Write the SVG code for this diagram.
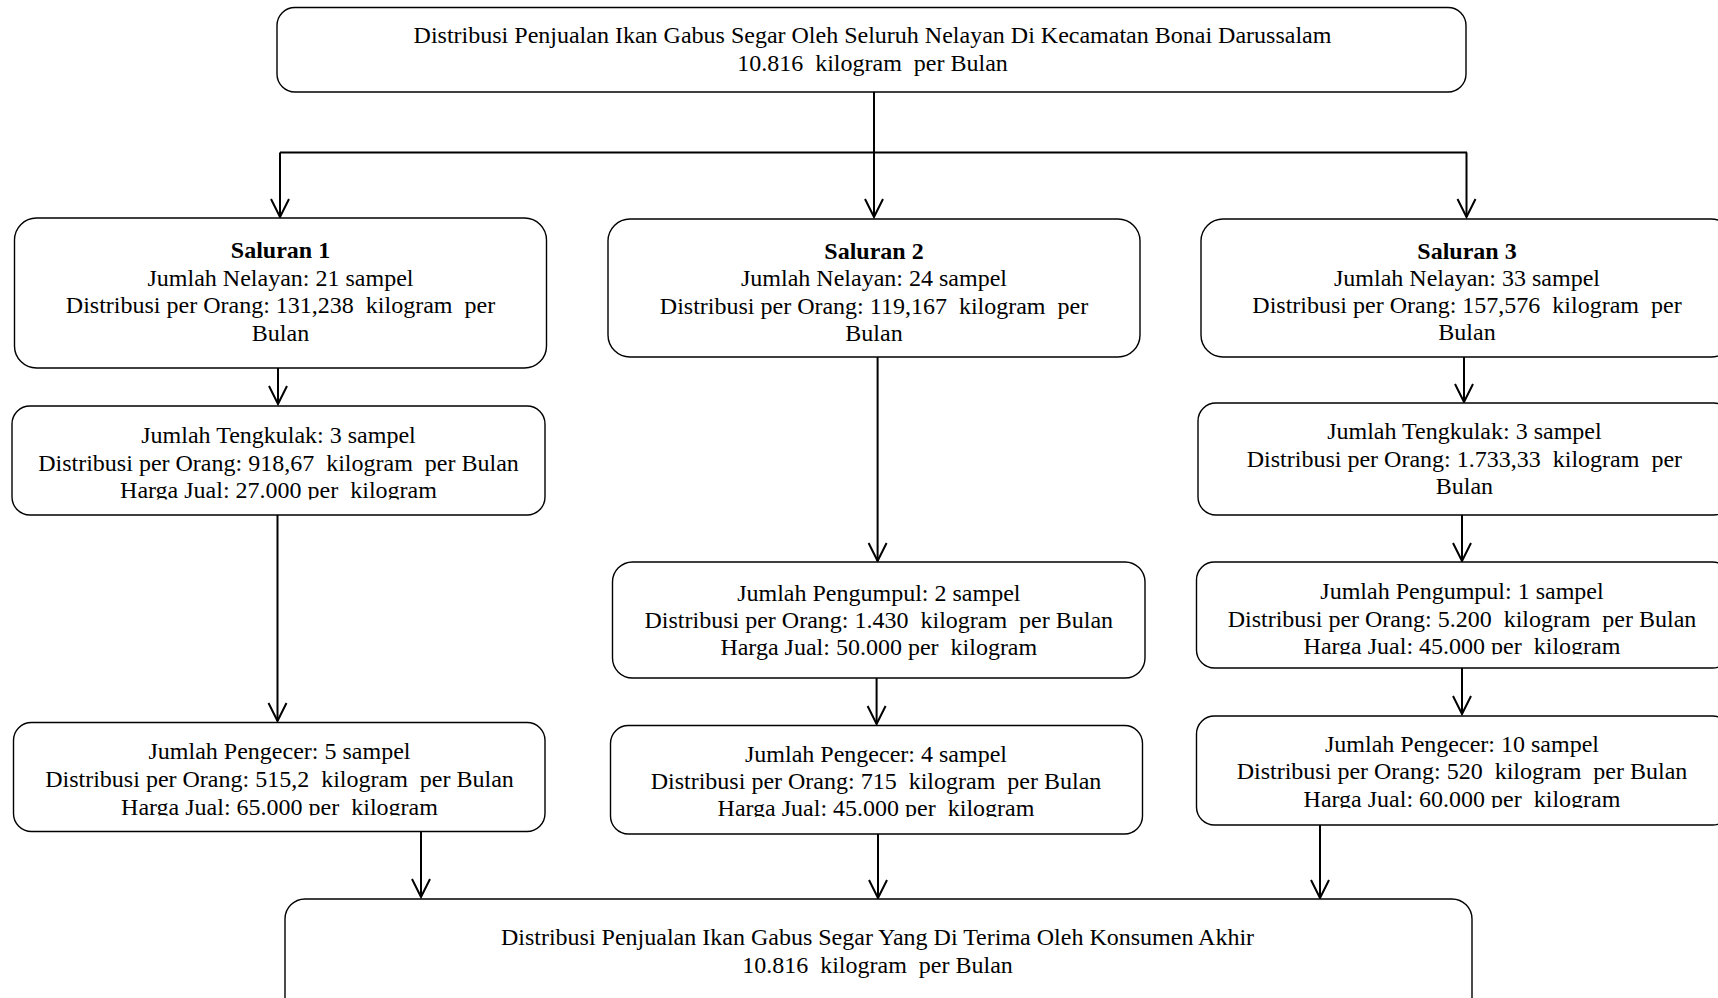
<svg xmlns="http://www.w3.org/2000/svg" width="1718" height="998" viewBox="0 0 1718 998" xml:space="preserve">
<style>
.box{fill:#fff;stroke:#000;stroke-width:1.4}
.t{font-family:"Liberation Serif","Times New Roman",serif;font-size:24px;fill:#000;text-anchor:middle;white-space:pre}
.b{font-weight:bold}
.c{fill:none;stroke:#000;stroke-width:2}
</style>
<defs>
<marker id="arr" markerUnits="userSpaceOnUse" viewBox="-20 -20 40 40" markerWidth="40" markerHeight="40" refX="0" refY="0" orient="auto" overflow="visible">
<path d="M-18,-9 L0,0 L-18,9" fill="none" stroke="#000" stroke-width="2"/>
</marker>
<clipPath id="cT1"><rect x="0" y="380" width="600" height="119.5"/></clipPath>
<clipPath id="cPe1"><rect x="0" y="700" width="600" height="115.5"/></clipPath>
<clipPath id="cPe2"><rect x="590" y="700" width="600" height="117"/></clipPath>
<clipPath id="cPu3"><rect x="1180" y="540" width="600" height="114.5"/></clipPath>
<clipPath id="cPe3"><rect x="1180" y="700" width="600" height="108"/></clipPath>
</defs>
<rect width="1718" height="998" fill="#fff"/>
<g id="connectors">
<path class="c" d="M874,92 V152.5 M280,152.5 H1467"/>
<line class="c" x1="280" y1="152.5" x2="280" y2="217" marker-end="url(#arr)"/>
<line class="c" x1="874" y1="152.5" x2="874" y2="217" marker-end="url(#arr)"/>
<line class="c" x1="1466.5" y1="152.5" x2="1466.5" y2="217" marker-end="url(#arr)"/>
<line class="c" x1="278" y1="368" x2="278" y2="404" marker-end="url(#arr)"/>
<line class="c" x1="277.5" y1="515" x2="277.5" y2="721" marker-end="url(#arr)"/>
<line class="c" x1="421" y1="832" x2="421" y2="897" marker-end="url(#arr)"/>
<line class="c" x1="877.6" y1="357" x2="877.6" y2="561" marker-end="url(#arr)"/>
<line class="c" x1="876.6" y1="678" x2="876.6" y2="724" marker-end="url(#arr)"/>
<line class="c" x1="878" y1="834" x2="878" y2="898" marker-end="url(#arr)"/>
<line class="c" x1="1464" y1="357" x2="1464" y2="402" marker-end="url(#arr)"/>
<line class="c" x1="1462" y1="515" x2="1462" y2="561" marker-end="url(#arr)"/>
<line class="c" x1="1462" y1="668" x2="1462" y2="714" marker-end="url(#arr)"/>
<line class="c" x1="1320" y1="825" x2="1320" y2="898" marker-end="url(#arr)"/>
</g>
<g id="top">
<rect class="box" x="277" y="7.5" width="1189" height="84.5" rx="18"/>
<text class="t" x="872.5" y="43">Distribusi Penjualan Ikan Gabus Segar Oleh Seluruh Nelayan Di Kecamatan Bonai Darussalam</text>
<text class="t" x="872.5" y="71">10.816  kilogram  per Bulan</text>
</g>
<g id="saluran1">
<rect class="box" x="14.5" y="218" width="532" height="150" rx="22"/>
<text class="t b" x="280.5" y="258">Saluran 1</text>
<text class="t" x="280.5" y="285.5">Jumlah Nelayan: 21 sampel</text>
<text class="t" x="280.5" y="313">Distribusi per Orang: 131,238  kilogram  per</text>
<text class="t" x="280.5" y="340.5">Bulan</text>
</g>
<g id="tengkulak1">
<rect class="box" x="12" y="406" width="533" height="109" rx="18"/>
<g clip-path="url(#cT1)">
<text class="t" x="278.5" y="443">Jumlah Tengkulak: 3 sampel</text>
<text class="t" x="278.5" y="470.5">Distribusi per Orang: 918,67  kilogram  per Bulan</text>
<text class="t" x="278.5" y="498">Harga Jual: 27.000 per  kilogram</text>
</g>
</g>
<g id="pengecer1">
<rect class="box" x="13.5" y="722.5" width="531.5" height="109" rx="18"/>
<g clip-path="url(#cPe1)">
<text class="t" x="279.5" y="759">Jumlah Pengecer: 5 sampel</text>
<text class="t" x="279.5" y="787">Distribusi per Orang: 515,2  kilogram  per Bulan</text>
<text class="t" x="279.5" y="814.5">Harga Jual: 65.000 per  kilogram</text>
</g>
</g>
<g id="saluran2">
<rect class="box" x="608" y="219" width="532" height="138" rx="22"/>
<text class="t b" x="874" y="259">Saluran 2</text>
<text class="t" x="874" y="286">Jumlah Nelayan: 24 sampel</text>
<text class="t" x="874" y="313.5">Distribusi per Orang: 119,167  kilogram  per</text>
<text class="t" x="874" y="341">Bulan</text>
</g>
<g id="pengumpul2">
<rect class="box" x="612.5" y="562" width="532.5" height="116" rx="20"/>
<text class="t" x="878.8" y="600.5">Jumlah Pengumpul: 2 sampel</text>
<text class="t" x="878.8" y="627.5">Distribusi per Orang: 1.430  kilogram  per Bulan</text>
<text class="t" x="878.8" y="655">Harga Jual: 50.000 per  kilogram</text>
</g>
<g id="pengecer2">
<rect class="box" x="610.5" y="725.5" width="532" height="108.5" rx="18"/>
<g clip-path="url(#cPe2)">
<text class="t" x="876" y="761.5">Jumlah Pengecer: 4 sampel</text>
<text class="t" x="876" y="789">Distribusi per Orang: 715  kilogram  per Bulan</text>
<text class="t" x="876" y="816">Harga Jual: 45.000 per  kilogram</text>
</g>
</g>
<g id="saluran3">
<rect class="box" x="1201" y="219" width="532" height="138" rx="22"/>
<text class="t b" x="1467" y="259">Saluran 3</text>
<text class="t" x="1467" y="286">Jumlah Nelayan: 33 sampel</text>
<text class="t" x="1467" y="313">Distribusi per Orang: 157,576  kilogram  per</text>
<text class="t" x="1467" y="340">Bulan</text>
</g>
<g id="tengkulak3">
<rect class="box" x="1198" y="403" width="534" height="112" rx="18"/>
<text class="t" x="1464.4" y="439">Jumlah Tengkulak: 3 sampel</text>
<text class="t" x="1464.4" y="466.5">Distribusi per Orang: 1.733,33  kilogram  per</text>
<text class="t" x="1464.4" y="494">Bulan</text>
</g>
<g id="pengumpul3">
<rect class="box" x="1196.5" y="562" width="534" height="106" rx="18"/>
<g clip-path="url(#cPu3)">
<text class="t" x="1462" y="599">Jumlah Pengumpul: 1 sampel</text>
<text class="t" x="1462" y="626.5">Distribusi per Orang: 5.200  kilogram  per Bulan</text>
<text class="t" x="1462" y="653.5">Harga Jual: 45.000 per  kilogram</text>
</g>
</g>
<g id="pengecer3">
<rect class="box" x="1196.5" y="716" width="534" height="109" rx="18"/>
<g clip-path="url(#cPe3)">
<text class="t" x="1462" y="751.5">Jumlah Pengecer: 10 sampel</text>
<text class="t" x="1462" y="779">Distribusi per Orang: 520  kilogram  per Bulan</text>
<text class="t" x="1462" y="807">Harga Jual: 60.000 per  kilogram</text>
</g>
</g>
<g id="bottom">
<rect class="box" x="285" y="899" width="1187" height="130" rx="20"/>
<text class="t" x="877.5" y="945">Distribusi Penjualan Ikan Gabus Segar Yang Di Terima Oleh Konsumen Akhir</text>
<text class="t" x="877.5" y="973">10.816  kilogram  per Bulan</text>
</g>
</svg>
